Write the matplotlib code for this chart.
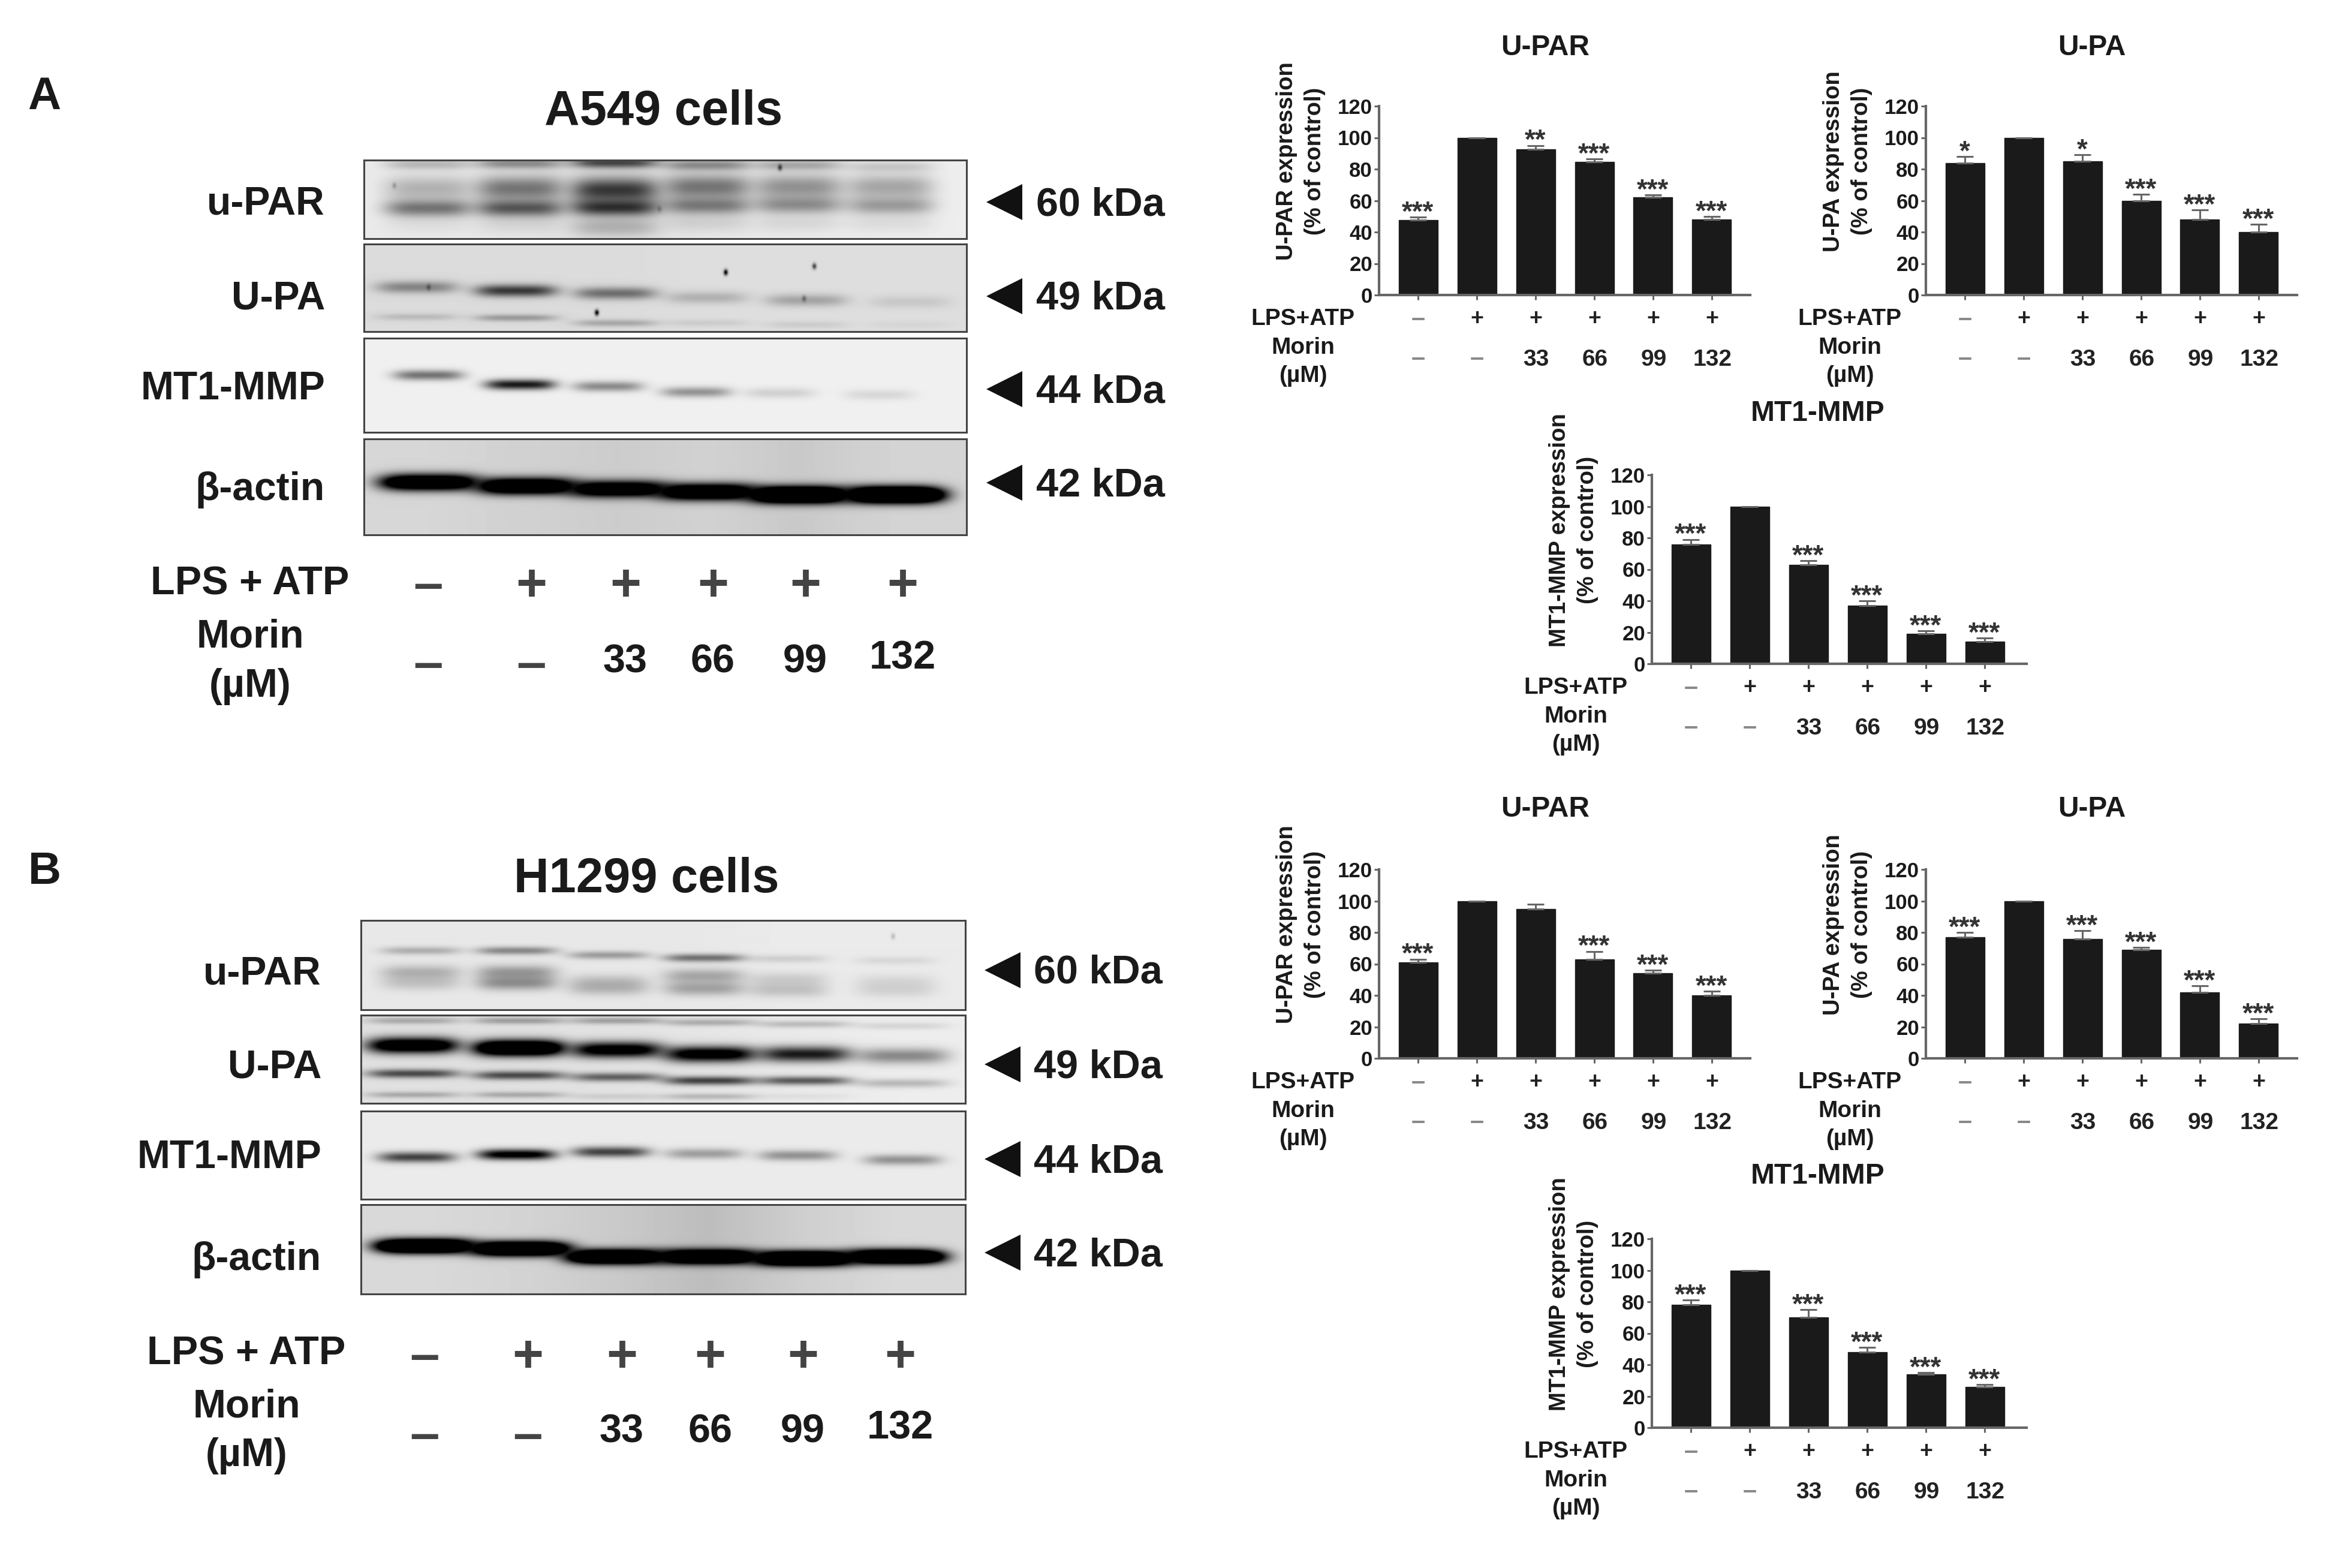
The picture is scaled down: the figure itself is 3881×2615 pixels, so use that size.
import numpy as np
import matplotlib
matplotlib.use("Agg")
import matplotlib.pyplot as plt

plt.rcParams['font.family'] = ['Liberation Sans', 'DejaVu Sans']
plt.rcParams['font.weight'] = 'bold'

W, H = 3881, 2615
DPI = 100

# ---------- bar chart data ----------
lps_row = ['–', '+', '+', '+', '+', '+']
morin_row = ['–', '–', '33', '66', '99', '132']
yticks = [0, 20, 40, 60, 80, 100, 120]

a_upar_vals = [47.5, 100, 92.5, 84.5, 62, 48]
a_upar_errs = [2, 0, 2.5, 2, 1.5, 2]
a_upar_sig = ['***', '', '**', '***', '***', '***']
a_upa_vals = [84, 100, 85, 60, 48, 40]
a_upa_errs = [4, 0, 4, 4, 6, 5]
a_upa_sig = ['*', '', '*', '***', '***', '***']
a_mt1_vals = [76, 100, 63, 37, 19, 14]
a_mt1_errs = [3, 0, 2.5, 3, 2, 2.5]
a_mt1_sig = ['***', '', '***', '***', '***', '***']
b_upar_vals = [61, 100, 95, 63, 54, 40]
b_upar_errs = [2, 0, 3, 5, 2, 2.5]
b_upar_sig = ['***', '', '', '***', '***', '***']
b_upa_vals = [77, 100, 76, 69, 42, 22]
b_upa_errs = [3, 0, 5, 1.5, 4, 3]
b_upa_sig = ['***', '', '***', '***', '***', '***']
b_mt1_vals = [78, 100, 70, 48, 34, 26]
b_mt1_errs = [3, 0, 5, 3, 1, 1.5]
b_mt1_sig = ['***', '', '***', '***', '***', '***']

# ---------- blot band data: lane centre, y, darkness per lane ----------
a_upar_x = [.107, .259, .416, .569, .721, .873]
a_upar_bands = [
    ([.61, .61, .60, .58, .57, .58], [.50, .62, .78, .46, .38, .33], .11),
    ([.36, .36, .38, .34, .34, .34], [.24, .50, .76, .50, .38, .30], .16),
    ([.05, .04, .03, .06, .06, .08], [.22, .40, .70, .40, .28, .15], .07),
    ([.82, .82, .85, .80, .80, .80], [.05, .08, .22, .10, .08, .07], .12),
]
a_upa_x = [.088, .252, .417, .569, .734, .906]
a_upa_bands = [
    ([.49, .53, .56, .61, .64, .66], [.40, .75, .50, .20, .26, .10], .07),
    ([.83, .84, .90, .90, .92, .92], [.15, .30, .24, .08, .08, .04], .04),
]
a_mt1_x = [.107, .259, .405, .551, .690, .855]
a_mt1_bands = [([.39, .49, .51, .57, .58, .60], [.52, .90, .42, .38, .13, .10], .055)]
a_act_x = [.107, .269, .421, .569, .721, .881]
a_act_bands = [([.45, .49, .52, .55, .58, .58], [1.7, 1.8, 1.6, 1.8, 2.4, 2.4], .085)]

b_upar_x = [.099, .257, .409, .567, .706, .884]
b_upar_bands = [
    ([.34, .34, .39, .42, .43, .45], [.25, .42, .33, .52, .12, .08], .045),
    ([.58, .58, .68, .62, .66, .68], [.24, .34, .16, .28, .13, .08], .08),
    ([.70, .70, .76, .76, .78, .78], [.16, .38, .20, .30, .17, .10], .08),
]
b_upa_x = [.086, .261, .423, .577, .734, .896]
b_upa_bands = [
    ([.34, .37, .39, .44, .44, .46], [1.4, 1.8, 1.2, 1.2, .90, .42], .09),
    ([.66, .68, .70, .74, .74, .77], [.68, .68, .58, .72, .62, .22], .05),
    ([.90, .90, .92, .92, .92, .92], [.25, .25, .10, .20, .05, .00], .035),
    ([.06, .06, .06, .08, .10, .12], [.25, .30, .30, .25, .20, .10], .04),
]
b_mt1_x = [.092, .257, .413, .567, .722, .896]
b_mt1_bands = [([.52, .49, .46, .48, .50, .55], [.72, 1.1, .72, .33, .38, .38], .06)]
b_act_x = [.105, .263, .421, .573, .732, .884]
b_act_bands = [([.46, .49, .58, .58, .60, .58], [2.2, 2.2, 2.2, 2.2, 2.4, 2.2], .08)]

# per-blot background grey, per lane-centre sample
a_upar_bg = [.92, .91, .88, .91, .92, .93]
a_upa_bg = [.86, .86, .86, .87, .87, .87]
a_mt1_bg = [.94, .94, .94, .94, .94, .94]
a_act_bg = [.84, .82, .80, .82, .79, .83]
b_upar_bg = [.91, .91, .91, .91, .92, .92]
b_upa_bg = [.88, .88, .89, .90, .92, .93]
b_mt1_bg = [.92, .92, .92, .92, .92, .92]
b_act_bg = [.85, .83, .79, .74, .81, .85]

# small dark specks on the membranes: x, y, dark
a_upar_specks = [(.69, .09, .7), (.05, .32, .25), (.49, .62, .25)]
a_upa_specks = [(.60, .32, 1.0), (.747, .25, .7), (.386, .78, 1.0), (.107, .49, .4), (.73, .62, .4)]
b_upar_specks = [(.88, .18, .2)]
no_specks = []

row_names = ['u-PAR', 'U-PA', 'MT1-MMP', 'β-actin']
kda_names = ['60 kDa', '49 kDa', '44 kDa', '42 kDa']

# ---------- layout ----------
fig = plt.figure(figsize=(W / DPI, H / DPI), dpi=DPI, facecolor='white')
ov = fig.add_axes([0, 0, 1, 1])
ov.set_xlim(0, W)
ov.set_ylim(H, 0)
ov.axis('off')
ov.set_zorder(5)
ov.patch.set_alpha(0)


def px_axes(l, t, r, b):
    return fig.add_axes([l / W, 1 - b / H, (r - l) / W, (b - t) / H])


def T(x, y, s, size, ha='center', va='center', color='#1a1a1a', **kw):
    return ov.text(x, y + 5, s, fontsize=size, ha=ha, va=va, color=color, fontweight='bold', **kw)


def blot(l, t, r, b, xs, bands, bg, halfw, specks):
    h, w = int(b - t), int(r - l)
    yy, xx = np.mgrid[0:h, 0:w]
    fx, fy = xx / w, yy / h
    base = np.interp(fx, xs, bg)
    trans = np.ones((h, w))
    for ys, darks, sig in bands:
        for x0, y0, d in zip(xs, ys, darks):
            prof = d * np.exp(-((fx - x0) / halfw) ** 4) * np.exp(-((fy - y0) / sig) ** 2)
            trans *= np.clip(1 - prof, 0, 1)
    for x0, y0, d in specks:
        prof = d * np.exp(-(((xx - x0 * w) / 3.5) ** 2 + ((yy - y0 * h) / 5.0) ** 2))
        trans *= np.clip(1 - prof, 0, 1)
    ax = px_axes(l, t, r, b)
    ax.imshow(base * trans, cmap='gray', vmin=0, vmax=1, aspect='auto', interpolation='bilinear')
    ax.set_xticks([])
    ax.set_yticks([])
    for s in ax.spines.values():
        s.set_linewidth(2.2)
        s.set_color('#444444')


def blot_panel(blots, left, right, rows, spec):
    widths = spec['halfw']
    for (t, b), (xs, bands, bg, sp), hw in zip(rows, blots, widths):
        blot(left, t, right, b, xs, bands, bg, hw, sp)
    for name, y in zip(row_names, spec['label_y']):
        T(spec['label_r'], y, name, 47.5, ha='right')
    for name, y in zip(kda_names, spec['kda_y']):
        ov.plot([spec['arrow_x']], [y], marker='<', ms=43, color='#111111', mew=0, ls='none')
        T(spec['kda_x'], y, name, 48, ha='left')
    T(spec['title_x'], spec['title_y'], spec['title'], 58.5)
    T(spec['tag_x'], spec['tag_y'], spec['tag'], 55)
    T(spec['col_x'], spec['lps_y'], 'LPS + ATP', 48)
    T(spec['col_x'], spec['morin_y'], 'Morin', 47.5)
    T(spec['col_x'], spec['um_y'], '(µM)', 47.5)
    for i, x in enumerate(spec['lane_x']):
        T(x, spec['sign_y'], lps_row[i], 64, color='#444444')
        m = morin_row[i]
        if m == '–':
            T(x, spec['minus_y'], m, 64, color='#444444')
        else:
            T(x, spec['val_y'] - (7 if m == '132' else 0), m, 48)


def chart(left, y0, right, name, ylab, vals, errs, sig, title_dy=417):
    spacing, bw, top = 98.0, 65.0, y0 - 315
    ax = px_axes(left, top, right, y0)
    first = left + bw
    ax.set_xlim(-bw / spacing, (right - first) / spacing)
    ax.set_ylim(0, 120)
    xs = np.arange(len(vals))
    ax.bar(xs, vals, width=bw / spacing, color='#1a1a1a', edgecolor='#1a1a1a')
    ax.errorbar(xs, vals, yerr=[np.zeros(len(vals)), errs], fmt='none', ecolor='#666666',
                elinewidth=2.2, capsize=10, capthick=2.2, zorder=1)
    for x, v, e, s in zip(xs, vals, errs, sig):
        if s:
            ax.annotate(s, (x, v + e), xytext=(0, -4), textcoords='offset points', ha='center',
                        va='baseline', fontsize=33, color='#333333', fontweight='bold')
    ax.set_yticks(yticks)
    ax.set_xticks(xs)
    ax.set_xticklabels([])
    ax.tick_params(axis='both', length=6, width=2.2, color='#666666', labelsize=25,
                   labelcolor='#1a1a1a', pad=2)
    for s in ('top', 'right'):
        ax.spines[s].set_visible(False)
    for s in ('left', 'bottom'):
        ax.spines[s].set_linewidth(3)
        ax.spines[s].set_color('#666666')
    ax.patch.set_alpha(0)
    T(left + 277, y0 - title_dy, name, 34.5)
    T(left - 154, y0 - 228, ylab, 27.5, rotation=90)
    T(left - 107, y0 - 228, '(% of control)', 27.5, rotation=90)
    T(left - 127, y0 + 35, 'LPS+ATP', 28)
    T(left - 127, y0 + 83, 'Morin', 28)
    T(left - 127, y0 + 130, '(µM)', 28)
    for i, x in enumerate(xs):
        cx = first + x * spacing
        T(cx, y0 + 35, lps_row[i], 27 if lps_row[i] == '+' else 30,
          color='#222222' if lps_row[i] == '+' else '#8a8a8a')
        m = morin_row[i]
        T(cx + (1 if m != '–' else 0), y0 + 103 - (0 if m != '–' else 2), m,
          28 if m != '–' else 30, color='#222222' if m != '–' else '#8a8a8a')


# ---------- panel A ----------
blot_panel(
    [(a_upar_x, a_upar_bands, a_upar_bg, a_upar_specks), (a_upa_x, a_upa_bands, a_upa_bg, a_upa_specks),
     (a_mt1_x, a_mt1_bands, a_mt1_bg, no_specks), (a_act_x, a_act_bands, a_act_bg, no_specks)],
    607, 1612, [(267, 398), (407, 553), (564, 721), (732, 892)],
    dict(halfw=[.072, .068, .058, .082], label_r=542, label_y=[335, 493, 644, 812],
         kda_y=[337, 494, 649, 805], arrow_x=1675, kda_x=1728,
         title='A549 cells', title_x=1107, title_y=182, tag='A', tag_x=74, tag_y=157,
         col_x=417, lps_y=969, morin_y=1058, um_y=1140,
         lane_x=[714, 886, 1043, 1189, 1343, 1505], sign_y=974, minus_y=1106, val_y=1100))
chart(2300, 492, 2919, 'U-PAR', 'U-PAR expression', a_upar_vals, a_upar_errs, a_upar_sig)
chart(3212, 492, 3831, 'U-PA', 'U-PA expression', a_upa_vals, a_upa_errs, a_upa_sig)
chart(2755, 1107, 3380, 'MT1-MMP', 'MT1-MMP expression', a_mt1_vals, a_mt1_errs, a_mt1_sig, 423)

# ---------- panel B ----------
blot_panel(
    [(b_upar_x, b_upar_bands, b_upar_bg, b_upar_specks), (b_upa_x, b_upa_bands, b_upa_bg, no_specks),
     (b_mt1_x, b_mt1_bands, b_mt1_bg, no_specks), (b_act_x, b_act_bands, b_act_bg, no_specks)],
    602, 1610, [(1535, 1684), (1693, 1840), (1853, 2000), (2009, 2158)],
    dict(halfw=[.066, .076, .064, .082], label_r=536, label_y=[1619, 1775, 1926, 2096],
         kda_y=[1618, 1775, 1933, 2089], arrow_x=1672, kda_x=1724,
         title='H1299 cells', title_x=1078, title_y=1462, tag='B', tag_x=74, tag_y=1450,
         col_x=411, lps_y=2253, morin_y=2342, um_y=2423,
         lane_x=[708, 880, 1037, 1184, 1339, 1501], sign_y=2260, minus_y=2392, val_y=2384))
chart(2300, 1765, 2919, 'U-PAR', 'U-PAR expression', b_upar_vals, b_upar_errs, b_upar_sig, 420)
chart(3212, 1765, 3831, 'U-PA', 'U-PA expression', b_upa_vals, b_upa_errs, b_upa_sig, 420)
chart(2755, 2381, 3380, 'MT1-MMP', 'MT1-MMP expression', b_mt1_vals, b_mt1_errs, b_mt1_sig, 425)

fig.savefig('out.png', dpi=DPI, facecolor='white')
